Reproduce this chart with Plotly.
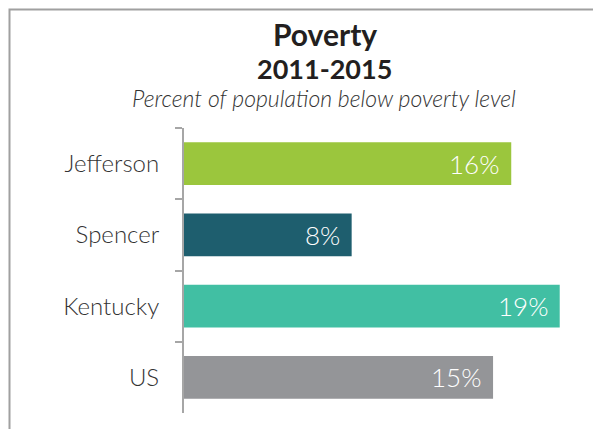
import plotly.graph_objects as go

categories = ["Jefferson", "Spencer", "Kentucky", "US"]
values = [16.2, 8.3, 18.6, 15.3]
labels = ["16%", "8%", "19%", "15%"]
colors = ["#9BC63D", "#1E5E6E", "#41BFA3", "#949598"]

# page body has an 8px margin; place everything in page pixel terms
OFF = 8
W, H = 601, 429
L, R, T, B = 184 - OFF, 21, 128 - OFF, 24
pw, ph = W - L - R, H - T - B

def px(x):
    return (x - OFF - L) / pw

def py(y):
    return (H - B - (y - OFF)) / ph

FONT = "Lato, 'Open Sans', sans-serif"

fig = go.Figure(go.Bar(
    y=categories, x=values, orientation="h",
    marker=dict(color=colors, line=dict(width=0)),
    hoverinfo="skip",
))

for c, v, t in zip(categories, values, labels):
    fig.add_annotation(x=v, y=c, xref="x", yref="y", text=t, showarrow=False,
                       xanchor="right", yanchor="middle", xshift=-10,
                       font=dict(color="white", size=26, family=FONT, weight=300))

fig.update_layout(
    width=W, height=H,
    margin=dict(l=L, r=R, t=T, b=B, autoexpand=False),
    paper_bgcolor="white", plot_bgcolor="white",
    bargap=0.4,
    showlegend=False,
    xaxis=dict(range=[0, 20], visible=False, fixedrange=True),
    yaxis=dict(
        autorange="reversed", tickson="boundaries", ticks="outside",
        ticklen=7, tickwidth=2, tickcolor="#A6A6A6",
        showline=True, linecolor="#A6A6A6", linewidth=2,
        showgrid=False, ticklabelstandoff=18, automargin=False,
        tickfont=dict(size=24, color="#333333", family=FONT, weight=300),
    ),
    font=dict(family=FONT),
)

# outer border
fig.add_shape(type="rect", xref="paper", yref="paper",
              x0=px(9.5), x1=px(W + 40), y0=py(H + 40), y1=py(9.5),
              line=dict(color="#A0A0A0", width=2), fillcolor="rgba(0,0,0,0)", layer="below")

fig.add_annotation(text="<b>Poverty</b>", xref="paper", yref="paper", x=px(325), y=py(34),
                   showarrow=False, font=dict(size=30, color="#231F20", family=FONT), yanchor="middle")
fig.add_annotation(text="<b>2011-2015</b>", xref="paper", yref="paper", x=px(324), y=py(68),
                   showarrow=False, font=dict(size=27, color="#231F20", family=FONT), yanchor="middle")
fig.add_annotation(text="<i>Percent of population below poverty level</i>", xref="paper", yref="paper",
                   x=px(324), y=py(98), showarrow=False,
                   font=dict(size=23, color="#333333", family=FONT, weight=300), yanchor="middle")

fig.write_html("out.html")
